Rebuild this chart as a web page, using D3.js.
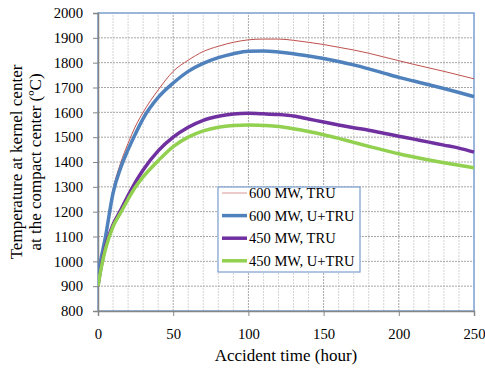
<!DOCTYPE html>
<html>
<head>
<meta charset="utf-8">
<script src="https://cdn.jsdelivr.net/npm/d3@7"></script>
<style>
  body { margin: 0; background: #fff; }
  svg text { font-family: 'Liberation Serif', 'Times New Roman', 'DejaVu Serif', serif; }
</style>
</head>
<body>
<div id="chart"></div>
<script>
// accident time (hour)
const hours = [0, 2, 5, 10, 15, 20, 25, 30, 40, 50, 60, 70, 80, 90, 100, 110, 120, 130, 140, 150,
  160, 170, 180, 190, 200, 210, 220, 230, 240, 250];

// kernel center temperature (ºC)
const tru600 = [944, 1012, 1108, 1290, 1395, 1475, 1545, 1600, 1690, 1765, 1810, 1845, 1866, 1882, 1892, 1895, 1895, 1890, 1882, 1873,
  1862, 1851, 1838, 1823, 1808, 1793, 1779, 1765, 1750, 1735];
const utru600 = [944, 1010, 1100, 1275, 1375, 1450, 1515, 1575, 1660, 1718, 1765, 1797, 1820, 1836, 1846, 1847, 1843, 1836, 1827, 1817,
  1805, 1791, 1775, 1758, 1741, 1726, 1711, 1696, 1680, 1663];
const tru450 = [900, 975, 1060, 1148, 1205, 1265, 1320, 1368, 1445, 1500, 1540, 1568, 1584, 1593, 1596, 1594, 1591, 1585, 1573, 1561,
  1549, 1538, 1528, 1516, 1504, 1492, 1480, 1468, 1456, 1440];
const utru450 = [900, 970, 1050, 1140, 1195, 1250, 1300, 1340, 1405, 1462, 1500, 1525, 1540, 1547, 1549, 1547, 1543, 1534, 1523, 1510,
  1495, 1479, 1463, 1448, 1433, 1420, 1408, 1397, 1387, 1377];

const seriesNames = ['600 MW, TRU', '600 MW, U+TRU', '450 MW, TRU', '450 MW, U+TRU'];
const seriesColors = ['#c0504d', '#4f81bd', '#7030a0', '#92d050'];
const seriesWidths = [1, 3.5, 3.5, 3.5];
const seriesValues = [tru600, utru600, tru450, utru450];

const xTicks = [0, 50, 100, 150, 200, 250];
const yTicks = d3.range(800, 2001, 100);

const serif = "'Liberation Serif', 'Times New Roman', 'DejaVu Serif', serif";

const width = 485, height = 368;
const margin = { left: 98, right: 11, top: 13, bottom: 57 };

const svg = d3.select('#chart').append('svg')
  .attr('width', width)
  .attr('height', height)
  .style('display', 'block');

const x = d3.scaleLinear().domain([0, 250]).range([margin.left, width - margin.right]);
const y = d3.scaleLinear().domain([800, 2000]).range([height - margin.bottom, margin.top]);

// grid: minor verticals every 10 h, major every 50 h, horizontals every 100 ºC
const grid = svg.append('g').attr('class', 'grid');
grid.selectAll('line.minor')
  .data(d3.range(10, 250, 10).filter(d => d % 50 !== 0))
  .enter().append('line')
  .attr('class', 'minor')
  .attr('x1', d => x(d)).attr('x2', d => x(d))
  .attr('y1', y(800)).attr('y2', y(2000))
  .attr('stroke', '#d4d4d4')
  .attr('stroke-dasharray', '2,1');
grid.selectAll('line.vmajor')
  .data([50, 100, 150, 200])
  .enter().append('line')
  .attr('class', 'vmajor')
  .attr('x1', d => x(d)).attr('x2', d => x(d))
  .attr('y1', y(800)).attr('y2', y(2000))
  .attr('stroke', '#a6a6a6')
  .attr('stroke-dasharray', '2,1');
grid.selectAll('line.hmajor')
  .data(yTicks.filter(d => d > 800 && d < 2000))
  .enter().append('line')
  .attr('class', 'hmajor')
  .attr('x1', x(0)).attr('x2', x(250))
  .attr('y1', d => y(d)).attr('y2', d => y(d))
  .attr('stroke', '#a6a6a6')
  .attr('stroke-dasharray', '2,1');

// plot-area border (top and right show blue)
svg.append('rect')
  .attr('x', x(0)).attr('y', y(2000))
  .attr('width', x(250) - x(0)).attr('height', y(800) - y(2000))
  .attr('fill', 'none')
  .attr('stroke', '#7a9fd0')
  .attr('stroke-width', 1.5);

// axes
const xAxis = svg.append('g')
  .attr('transform', 'translate(0,' + y(800) + ')')
  .call(d3.axisBottom(x).tickValues(xTicks).tickSize(5).tickPadding(13).tickFormat(d3.format('d')));
const yAxis = svg.append('g')
  .attr('transform', 'translate(' + x(0) + ',0)')
  .call(d3.axisLeft(y).tickValues(yTicks).tickSize(5).tickPadding(10).tickFormat(d3.format('d')));

[xAxis, yAxis].forEach(a => {
  a.attr('font-family', serif).attr('font-size', 14.7);
  a.select('.domain').attr('stroke', '#868686').attr('stroke-width', 1.5);
  a.selectAll('.tick line').attr('stroke', '#868686');
  a.selectAll('.tick text').attr('fill', '#000');
});

// lines
const line = d3.line()
  .x((d, i) => x(hours[i]))
  .y(d => y(d))
  .curve(d3.curveMonotoneX);

svg.append('clipPath').attr('id', 'plot-clip')
  .append('rect')
  .attr('x', x(0)).attr('y', y(2000) - 4)
  .attr('width', x(250) - x(0) + 2).attr('height', y(800) - y(2000) + 4);

svg.append('g').attr('clip-path', 'url(#plot-clip)')
  .selectAll('path')
  .data(seriesValues)
  .enter().append('path')
  .attr('d', line)
  .attr('fill', 'none')
  .attr('stroke', (d, i) => seriesColors[i])
  .attr('stroke-width', (d, i) => seriesWidths[i])
  .attr('stroke-linejoin', 'round');

// legend
const legend = svg.append('g').attr('transform', 'translate(218,187)');
legend.append('rect')
  .attr('width', 142).attr('height', 85)
  .attr('fill', '#fff')
  .attr('stroke', '#7a9fd0')
  .attr('stroke-width', 1.2);
const items = legend.selectAll('g.item')
  .data(seriesNames)
  .enter().append('g')
  .attr('class', 'item')
  .attr('transform', (d, i) => 'translate(0,' + (6 + i * 22.6) + ')');
items.append('line')
  .attr('x1', 4).attr('x2', 29)
  .attr('stroke', (d, i) => seriesColors[i])
  .attr('stroke-width', (d, i) => seriesWidths[i] === 1 ? 1 : 3.5)
  .attr('stroke-opacity', (d, i) => seriesWidths[i] === 1 ? 0.6 : 1);
items.append('text')
  .attr('x', 31)
  .attr('dy', '0.35em')
  .attr('font-family', serif)
  .attr('font-size', 14.5)
  .text(d => d);

// axis titles
svg.append('text')
  .attr('x', (x(0) + x(250)) / 2)
  .attr('y', 361)
  .attr('text-anchor', 'middle')
  .attr('font-family', serif)
  .attr('font-size', 17)
  .text('Accident time (hour)');

const yTitle = svg.append('text')
  .attr('transform', 'translate(22,' + ((y(800) + y(2000)) / 2) + ') rotate(-90)')
  .attr('text-anchor', 'middle')
  .attr('font-family', serif)
  .attr('font-size', 17);
yTitle.append('tspan').attr('x', 0).attr('y', 0).text('Temperature at kernel center');
yTitle.append('tspan').attr('x', 0).attr('y', 19).text('at the compact center (ºC)');
</script>
</body>
</html>
